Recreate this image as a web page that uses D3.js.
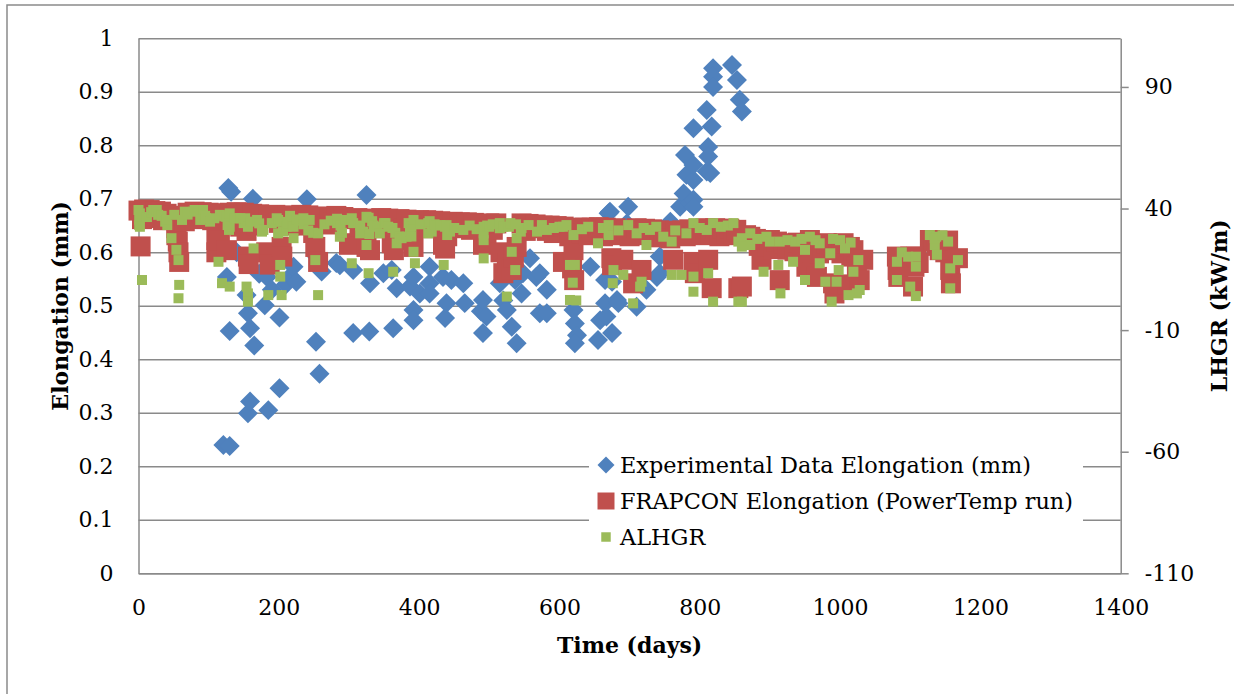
<!DOCTYPE html>
<html>
<head>
<meta charset="utf-8">
<script src="https://cdn.jsdelivr.net/npm/d3@7"></script>
<style>
  body { margin: 0; background: #fff; }
  svg { display: block; }
  text { font-family: "DejaVu Serif", serif; fill: #000; }
</style>
</head>
<body>
<svg id="chart" width="1234" height="694"></svg>
<script>
// tick values
const xTicks = [0, 200, 400, 600, 800, 1000, 1200, 1400]
const yTicks = [0, 0.1, 0.2, 0.3, 0.4, 0.5, 0.6, 0.7, 0.8, 0.9, 1]
const y2Ticks = [-110, -60, -10, 40, 90]

const seriesNames = ['Experimental Data Elongation (mm)', 'FRAPCON Elongation (PowerTemp run)', 'ALHGR']

// [day, elongation mm]
const experimental = [
  [121,0.240],[130,0.238],[128,0.720],[132,0.713],[126,0.554],[130,0.453],[140,0.600],[154,0.520],
  [156,0.486],[159,0.458],[165,0.426],[156,0.299],[159,0.321],[163,0.700],[172,0.560],[180,0.501],
  [183,0.554],[185,0.305],[190,0.530],[201,0.478],[201,0.346],[210,0.540],[216,0.555],[221,0.573],
  [225,0.545],[240,0.699],[254,0.592],[261,0.564],[253,0.433],[258,0.373],[282,0.580],[287,0.576],
  [306,0.567],[306,0.449],[325,0.707],[329,0.452],[330,0.542],[349,0.561],[361,0.567],[363,0.458],
  [368,0.533],[387,0.536],[392,0.554],[392,0.492],[392,0.473],[401,0.523],[415,0.573],[415,0.542],
  [415,0.523],[434,0.554],[437,0.477],[439,0.505],[446,0.548],[463,0.542],[465,0.505],[488,0.490],
  [491,0.511],[491,0.449],[496,0.480],[515,0.542],[520,0.510],[525,0.492],[532,0.461],[537,0.548],
  [539,0.430],[546,0.523],[548,0.561],[558,0.589],[567,0.554],[572,0.561],[572,0.486],[582,0.530],
  [582,0.486],[620,0.492],[622,0.467],[625,0.445],[622,0.430],[644,0.573],[655,0.436],[658,0.473],
  [665,0.505],[665,0.548],[667,0.480],[670,0.673],[672,0.676],[675,0.545],[675,0.449],[682,0.511],
  [684,0.505],[696,0.654],[698,0.685],[710,0.498],[724,0.530],[739,0.554],[743,0.561],[743,0.592],
  [758,0.657],[767,0.630],[772,0.685],[777,0.710],[779,0.782],[781,0.745],[786,0.692],[791,0.735],
  [791,0.763],[791,0.832],[791,0.698],[791,0.685],[810,0.866],[810,0.751],[812,0.797],[812,0.779],
  [815,0.748],[817,0.835],[819,0.944],[819,0.928],[819,0.909],[846,0.950],[853,0.922],[857,0.885],
  [860,0.863]
]

// [day, elongation mm]
const frapcon = [
  [0,0.678],[3,0.611],[5,0.662],[8,0.680],[16,0.679],[20,0.664],[24,0.677],[32,0.676],[35,0.660],
  [40,0.672],[48,0.668],[54,0.645],[54,0.632],[56,0.620],[57,0.600],[58,0.582],[62,0.668],[66,0.658],
  [70,0.674],[80,0.676],[85,0.662],[90,0.675],[100,0.674],[105,0.660],[110,0.673],[111,0.623],
  [111,0.600],[114,0.640],[116,0.622],[120,0.670],[126,0.604],[130,0.674],[135,0.652],[140,0.675],
  [145,0.648],[150,0.674],[154,0.640],[156,0.592],[157,0.578],[160,0.655],[162,0.672],[168,0.650],
  [172,0.671],[182,0.600],[185,0.668],[187,0.595],[187,0.577],[195,0.670],[200,0.655],[204,0.610],
  [205,0.592],[212,0.669],[215,0.650],[222,0.668],[228,0.655],[232,0.670],[238,0.650],[242,0.669],
  [249,0.636],[252,0.610],[256,0.582],[262,0.667],[266,0.652],[272,0.666],[278,0.655],[282,0.668],
  [292,0.666],[300,0.662],[300,0.614],[306,0.617],[312,0.664],[315,0.648],[322,0.662],[325,0.610],
  [330,0.604],[330,0.650],[336,0.663],[342,0.645],[346,0.664],[352,0.650],[356,0.663],[361,0.617],
  [364,0.604],[368,0.648],[372,0.662],[378,0.645],[382,0.661],[387,0.623],[392,0.610],[400,0.660],
  [405,0.650],[410,0.660],[415,0.645],[420,0.659],[425,0.648],[430,0.658],[434,0.614],[437,0.607],
  [440,0.630],[448,0.657],[452,0.645],[458,0.656],[462,0.648],[468,0.656],[474,0.642],[478,0.655],
  [488,0.652],[491,0.614],[496,0.620],[500,0.654],[505,0.642],[510,0.654],[516,0.600],[520,0.561],
  [525,0.570],[526,0.580],[532,0.567],[535,0.590],[539,0.610],[546,0.654],[552,0.640],[556,0.653],
  [562,0.645],[566,0.652],[576,0.650],[582,0.640],[586,0.650],[592,0.636],[596,0.649],[605,0.582],
  [606,0.648],[612,0.640],[614,0.630],[618,0.570],[620,0.604],[621,0.548],[626,0.646],[632,0.636],
  [636,0.646],[642,0.632],[646,0.646],[652,0.638],[656,0.647],[662,0.630],[666,0.646],[674,0.589],
  [675,0.576],[680,0.645],[686,0.632],[691,0.586],[695,0.640],[700,0.630],[705,0.542],[710,0.645],
  [717,0.567],[722,0.644],[727,0.632],[732,0.643],[738,0.628],[742,0.641],[748,0.630],[752,0.640],
  [758,0.626],[762,0.586],[765,0.640],[770,0.632],[775,0.641],[780,0.630],[785,0.643],[791,0.582],
  [793,0.561],[798,0.644],[803,0.632],[808,0.645],[812,0.586],[815,0.634],[817,0.533],[822,0.645],
  [828,0.630],[832,0.644],[838,0.635],[842,0.644],[848,0.632],[852,0.642],[855,0.533],[860,0.536],
  [866,0.632],[872,0.629],[880,0.625],[884,0.612],[888,0.586],[892,0.622],[896,0.610],[900,0.623],
  [905,0.606],[910,0.620],[914,0.548],[920,0.617],[925,0.605],[930,0.615],[935,0.602],[940,0.618],
  [946,0.608],[952,0.573],[957,0.623],[960,0.600],[962,0.615],[967,0.554],[970,0.598],[975,0.612],
  [981,0.617],[985,0.604],[990,0.542],[992,0.523],[998,0.610],[1002,0.598],[1005,0.617],[1010,0.540],
  [1014,0.610],[1016,0.592],[1019,0.604],[1024,0.573],[1028,0.548],[1033,0.586],[1081,0.592],
  [1082,0.567],[1083,0.554],[1088,0.580],[1095,0.590],[1100,0.592],[1104,0.536],[1106,0.573],
  [1109,0.592],[1112,0.580],[1128,0.623],[1133,0.620],[1138,0.612],[1142,0.604],[1150,0.600],
  [1154,0.622],[1157,0.567],[1158,0.542],[1168,0.589]
]

// [day, LHGR kW/m] on the right axis
const alhgr = [
  [0,39.4],[1,35.3],[1,33.2],[2,38.0],[2,32.5],[5,10.6],[12,36.5],[18,38.5],[21,39.4],[26,39.4],
  [28,37.4],[33,37.0],[38,34.6],[41,33.2],[40,35.3],[47,27.8],[51,37.4],[54,23.0],[57,18.8],[58,8.6],
  [57,3.1],[62,35.3],[66,38.7],[70,37.5],[78,38.7],[80,39.4],[88,35.3],[92,39.4],[95,37.0],[96,36.1],
  [102,34.6],[108,36.0],[114,18.1],[116,37.4],[119,9.3],[122,36.8],[125,36.6],[127,33.2],[129,31.2],
  [130,38.0],[130,32.5],[130,7.9],[137,36.0],[140,36.0],[145,36.0],[150,34.0],[152,36.0],[156,32.5],
  [154,7.9],[156,5.1],[156,1.7],[160,34.6],[164,23.6],[169,35.3],[172,33.9],[176,30.5],[178,31.2],
  [185,4.4],[190,34.0],[197,36.0],[199,35.3],[199,29.8],[202,16.8],[202,12.0],[203,34.5],[204,4.4],
  [206,30.5],[211,32.5],[212,34.0],[216,37.0],[219,33.5],[221,27.8],[221,32.5],[225,35.5],[228,35.0],
  [235,36.0],[235,33.5],[242,31.0],[244,35.3],[249,30.0],[252,18.8],[256,4.4],[256,29.8],[265,33.5],
  [274,35.0],[283,34.0],[283,35.8],[287,28.4],[288,33.0],[290,30.0],[295,35.3],[304,17.5],[304,36.0],
  [306,34.0],[316,29.8],[316,33.0],[320,30.5],[325,36.6],[325,25.0],[328,13.4],[328,36.2],[329,29.5],
  [333,34.8],[335,33.0],[340,32.5],[344,29.8],[350,34.0],[352,34.0],[356,32.5],[362,32.0],[363,14.0],
  [366,30.0],[368,25.7],[372,28.5],[375,27.8],[382,28.4],[385,34.0],[387,30.5],[389,32.5],[389,28.5],
  [392,35.3],[392,22.2],[394,17.5],[402,33.5],[413,34.0],[413,29.8],[415,34.8],[418,30.5],[422,33.5],
  [424,33.0],[430,33.2],[435,16.8],[437,32.5],[439,33.2],[440,29.1],[444,30.5],[450,32.0],[463,31.2],
  [472,33.0],[482,31.5],[492,29.8],[492,27.0],[492,19.5],[492,32.5],[497,33.0],[500,32.5],[505,33.5],
  [515,31.9],[515,34.0],[520,32.5],[525,3.8],[528,32.5],[530,34.0],[538,33.5],[539,27.8],[532,22.2],
  [537,14.7],[545,30.5],[546,32.0],[556,33.2],[568,30.5],[575,33.2],[582,31.2],[592,32.0],[600,32.5],
  [605,32.5],[610,33.2],[620,29.1],[615,16.8],[622,16.8],[619,9.5],[615,2.4],[624,2.2],[632,31.5],
  [641,32.5],[655,25.7],[662,32.0],[670,33.2],[670,29.1],[677,14.7],[676,9.3],[684,31.0],[691,12.7],
  [698,33.2],[705,1.0],[710,29.8],[715,7.9],[717,9.9],[720,32.0],[724,25.0],[729,31.2],[738,32.5],
  [748,28.4],[760,26.4],[760,12.7],[765,31.0],[774,12.7],[781,29.8],[791,34.0],[791,12.0],[791,5.8],
  [800,32.0],[810,31.2],[812,13.4],[819,34.0],[819,1.7],[830,32.5],[840,33.0],[848,34.0],[855,26.4],
  [855,1.7],[860,27.8],[860,24.3],[860,1.7],[872,29.8],[872,25.0],[882,27.5],[891,14.0],[895,28.4],
  [900,26.4],[912,16.8],[914,26.4],[915,5.1],[925,27.0],[933,18.1],[936,26.4],[945,27.5],[950,10.6],
  [950,23.0],[957,28.4],[965,27.0],[971,25.7],[971,17.5],[979,9.9],[986,21.6],[988,1.7],[990,27.5],
  [995,9.9],[998,14.7],[1000,27.0],[1007,23.6],[1012,4.4],[1015,26.0],[1019,14.0],[1024,5.1],
  [1026,18.8],[1028,6.5],[1081,18.1],[1081,10.6],[1088,22.0],[1097,20.2],[1100,7.9],[1108,16.1],
  [1108,4.0],[1108,20.2],[1128,29.1],[1135,25.0],[1137,28.4],[1135,27.8],[1138,21.0],[1146,29.0],
  [1154,26.4],[1157,15.4],[1157,7.2],[1168,18.8]
]

const colors = { exp: '#4F81BD', frap: '#C0504D', lhgr: '#9BBB59', grid: '#8a8a8a' }

const plot = { left: 138.5, right: 1120.7, top: 38.3, bottom: 573.3 }

const svg = d3.select('#chart')

const x = d3.scaleLinear().domain([0, 1400]).range([plot.left, plot.right])
const y = d3.scaleLinear().domain([0, 1]).range([plot.bottom, plot.top])
const y2 = d3.scaleLinear().domain([-110, 110]).range([plot.bottom, plot.top])

// outer chart border (only top and left edges are inside the picture)
svg.append('rect')
  .attr('x', 7).attr('y', 5).attr('width', 1250).attr('height', 710)
  .attr('fill', 'none').attr('stroke', colors.grid).attr('stroke-width', 1.5)

// horizontal gridlines
const grid = svg.append('g').attr('class', 'grid')
  .attr('transform', 'translate(' + plot.left + ',0)')
  .call(d3.axisLeft(y).tickValues(yTicks).tickSize(-(plot.right - plot.left)).tickFormat(''))
grid.select('.domain').remove()
grid.selectAll('line').attr('stroke', colors.grid).attr('stroke-width', 1.5)

// left axis
const yAxis = svg.append('g')
  .attr('transform', 'translate(' + plot.left + ',0)')
  .call(d3.axisLeft(y).tickValues(yTicks).tickSize(0).tickPadding(25).tickFormat(d => String(d)))
yAxis.select('.domain').attr('stroke', colors.grid).attr('stroke-width', 1.5)
yAxis.selectAll('text').style('font-size', '22px').style('font-family', 'DejaVu Serif')

// bottom axis
const xAxis = svg.append('g')
  .attr('transform', 'translate(0,' + plot.bottom + ')')
  .call(d3.axisBottom(x).tickValues(xTicks).tickSize(0).tickPadding(26).tickFormat(d => String(d)))
xAxis.select('.domain').attr('stroke', colors.grid).attr('stroke-width', 1.5)
xAxis.selectAll('text').style('font-size', '22px').style('font-family', 'DejaVu Serif')

// right axis
const y2Axis = svg.append('g')
  .attr('transform', 'translate(' + plot.right + ',0)')
  .call(d3.axisRight(y2).tickValues(y2Ticks).tickSizeInner(8).tickSizeOuter(0).tickPadding(16).tickFormat(d => String(d)))
y2Axis.select('.domain').attr('stroke', colors.grid).attr('stroke-width', 1.5)
y2Axis.selectAll('line').attr('stroke', colors.grid).attr('stroke-width', 1.5)
y2Axis.selectAll('text').style('font-size', '22px').style('font-family', 'DejaVu Serif')

// axis titles
svg.append('text')
  .attr('x', (plot.left + plot.right) / 2).attr('y', 653)
  .attr('text-anchor', 'middle')
  .style('font-size', '22px').style('font-weight', 'bold')
  .text('Time (days)')

svg.append('text')
  .attr('transform', 'translate(68,' + ((plot.top + plot.bottom) / 2) + ') rotate(-90)')
  .attr('text-anchor', 'middle')
  .style('font-size', '22px').style('font-weight', 'bold')
  .text('Elongation (mm)')

svg.append('text')
  .attr('transform', 'translate(1227,' + ((plot.top + plot.bottom) / 2) + ') rotate(-90)')
  .attr('text-anchor', 'middle')
  .style('font-size', '22px').style('font-weight', 'bold')
  .text('LHGR (kW/m)')

// markers
const diamond = d3.symbol().type(d3.symbolSquare).size(200)
const bigSquare = d3.symbol().type(d3.symbolSquare).size(400)
const smallSquare = d3.symbol().type(d3.symbolSquare).size(100)

const marks = svg.append('g').attr('class', 'marks')

marks.append('g').selectAll('path')
  .data(experimental)
  .join('path')
  .attr('d', diamond)
  .attr('transform', d => 'translate(' + x(d[0]) + ',' + y(d[1]) + ') rotate(45)')
  .attr('fill', colors.exp)

marks.append('g').selectAll('path')
  .data(frapcon)
  .join('path')
  .attr('d', bigSquare)
  .attr('transform', d => 'translate(' + x(d[0]) + ',' + y(d[1]) + ')')
  .attr('fill', colors.frap)

marks.append('g').selectAll('path')
  .data(alhgr)
  .join('path')
  .attr('d', smallSquare)
  .attr('transform', d => 'translate(' + x(d[0]) + ',' + y2(d[1]) + ')')
  .attr('fill', colors.lhgr)

// legend, white box over the gridlines
const legend = svg.append('g').attr('class', 'legend')
legend.append('rect')
  .attr('x', 589).attr('y', 444).attr('width', 494).attr('height', 112)
  .attr('fill', '#fff')

const legendRows = [
  { name: seriesNames[0], y: 465, shape: d3.symbol().type(d3.symbolSquare).size(144), rot: 45, color: colors.exp },
  { name: seriesNames[1], y: 501, shape: d3.symbol().type(d3.symbolSquare).size(289), rot: 0, color: colors.frap },
  { name: seriesNames[2], y: 537, shape: d3.symbol().type(d3.symbolSquare).size(90), rot: 0, color: colors.lhgr }
]

legendRows.forEach(row => {
  legend.append('path')
    .attr('d', row.shape)
    .attr('transform', 'translate(606,' + row.y + ') rotate(' + row.rot + ')')
    .attr('fill', row.color)
  legend.append('text')
    .attr('x', 620).attr('y', row.y).attr('dy', '0.35em')
    .style('font-size', '22.4px')
    .text(row.name)
})
</script>
</body>
</html>
